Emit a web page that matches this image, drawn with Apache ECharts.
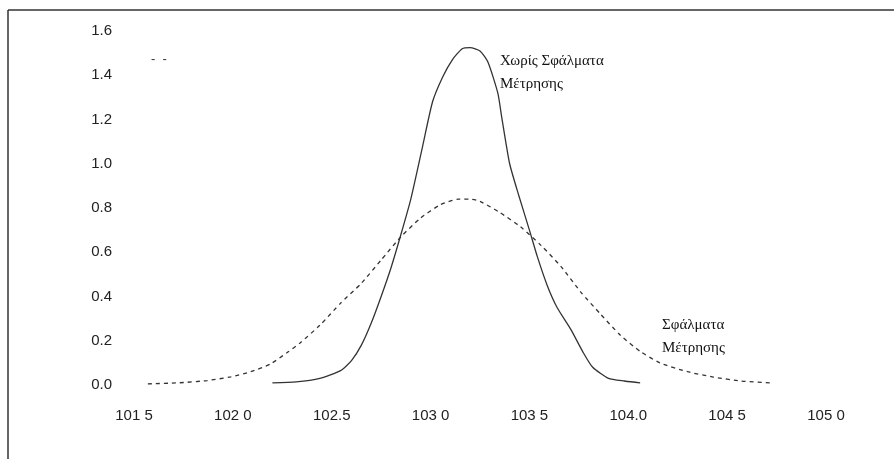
<!DOCTYPE html>
<html>
<head>
<meta charset="utf-8">
<script src="https://cdn.jsdelivr.net/npm/echarts@6/dist/echarts.min.js"></script>
<style>
  html, body { margin: 0; padding: 0; background: #fff; }
  #chart { width: 894px; height: 459px; }
</style>
</head>
<body>
<div id="chart"></div>
<script>
// curve without measurement errors (x, density)
var solidData = [
  [102.20, 0.01], [102.32, 0.014], [102.44, 0.03], [102.545, 0.065], [102.60, 0.11],
  [102.65, 0.18], [102.70, 0.28], [102.75, 0.40], [102.80, 0.53], [102.85, 0.68],
  [102.90, 0.84], [102.96, 1.08], [103.01, 1.28], [103.06, 1.39], [103.11, 1.47],
  [103.16, 1.52], [103.20, 1.525], [103.25, 1.51], [103.29, 1.46], [103.34, 1.32],
  [103.36, 1.21], [103.40, 1.00], [103.445, 0.86], [103.50, 0.70], [103.54, 0.58],
  [103.59, 0.45], [103.64, 0.35], [103.71, 0.25], [103.77, 0.15], [103.82, 0.08],
  [103.90, 0.03], [103.98, 0.018], [104.06, 0.01]
];

// curve with measurement errors
var dashedData = [
  [101.57, 0.005], [101.73, 0.01], [101.87, 0.02], [101.99, 0.037], [102.09, 0.06],
  [102.19, 0.095], [102.28, 0.15], [102.34, 0.19], [102.44, 0.27], [102.545, 0.37],
  [102.65, 0.46], [102.75, 0.565], [102.85, 0.67], [102.95, 0.755], [103.05, 0.815],
  [103.14, 0.84], [103.20, 0.84], [103.25, 0.83], [103.35, 0.78], [103.455, 0.715],
  [103.56, 0.63], [103.66, 0.535], [103.76, 0.42], [103.86, 0.32], [103.96, 0.225],
  [104.06, 0.152], [104.16, 0.10], [104.30, 0.06], [104.43, 0.036], [104.57, 0.018],
  [104.735, 0.009]
];

var xTicks = [101.5, 102.0, 102.5, 103.0, 103.5, 104.0, 104.5, 105.0];
var xTickLabels = ['101 5', '102 0', '102.5', '103 0', '103 5', '104.0', '104 5', '105 0'];

var myChart = echarts.init(document.getElementById('chart'));

var option = {
  backgroundColor: '#fff',
  animation: false,
  grid: {
    left: 134,
    right: 68,
    top: 31,
    bottom: 74
  },
  xAxis: {
    type: 'value',
    min: 101.5,
    max: 105.0,
    interval: 0.5,
    axisLine: { show: false },
    axisTick: { show: false },
    splitLine: { show: false },
    axisLabel: {
      margin: 23,
      color: '#222',
      fontFamily: 'Liberation Sans',
      fontSize: 15,
      formatter: function (v) {
        for (var i = 0; i < xTicks.length; i++) {
          if (Math.abs(xTicks[i] - v) < 1e-6) return xTickLabels[i];
        }
        return '';
      }
    }
  },
  yAxis: {
    type: 'value',
    min: 0,
    max: 1.6,
    interval: 0.2,
    axisLine: { show: false },
    axisTick: { show: false },
    splitLine: { show: false },
    axisLabel: {
      margin: 22,
      color: '#222',
      fontFamily: 'Liberation Sans',
      fontSize: 15,
      formatter: function (v) { return v.toFixed(1); }
    }
  },
  graphic: [
    { type: 'line', shape: { x1: 8, y1: 10, x2: 894, y2: 10 }, style: { stroke: '#333', lineWidth: 1.5 } },
    { type: 'line', shape: { x1: 8, y1: 10, x2: 8, y2: 459 }, style: { stroke: '#333', lineWidth: 1.5 } },
    { type: 'text', left: 151, top: 53, style: { text: '-  -', fill: '#333', font: '13px Liberation Sans' } },
    { type: 'text', left: 500, top: 50, style: { text: 'Χωρίς Σφάλματα\nΜέτρησης', fill: '#111', font: '15px Liberation Serif', lineHeight: 23 } },
    { type: 'text', left: 662, top: 314, style: { text: 'Σφάλματα\nΜέτρησης', fill: '#111', font: '15px Liberation Serif', lineHeight: 23 } }
  ],
  series: [
    {
      name: 'Χωρίς Σφάλματα Μέτρησης',
      type: 'line',
      data: solidData,
      showSymbol: false,
      smooth: 0.2,
      lineStyle: { color: '#333', width: 1.3, type: 'solid' }
    },
    {
      name: 'Σφάλματα Μέτρησης',
      type: 'line',
      data: dashedData,
      showSymbol: false,
      smooth: 0.2,
      lineStyle: { color: '#333', width: 1.3, type: [4, 4] }
    }
  ]
};

myChart.setOption(option);
</script>
</body>
</html>
